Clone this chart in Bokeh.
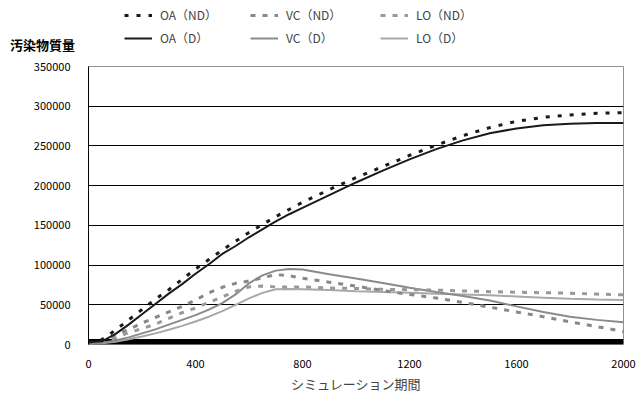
from bokeh.plotting import figure
from bokeh.layouts import column, row
from bokeh.models import (Legend, LegendItem, Range1d, FixedTicker, Div,
                          ColumnDataSource, NumeralTickFormatter)
from bokeh.embed import file_html
from bokeh.resources import INLINE

# ---- data ----
steps = [0, 50, 100, 150, 200, 250, 300, 350, 400, 450, 500, 550, 600, 650, 700, 750,
         800, 900, 1000, 1100, 1200, 1300, 1400, 1500, 1600, 1700, 1800, 1900, 2000]
oa_nd = [3000, 6000, 18000, 31000, 44000, 57000, 69000, 82000, 95000, 107000, 119000,
         130000, 141000, 151000, 161000, 170000, 179000, 195000, 210000, 224000, 238000,
         251000, 263000, 273000, 281000, 286000, 289000, 291000, 292000]
oa_d = [3000, 4000, 13000, 25000, 38000, 51000, 64000, 76000, 89000, 101000, 114000,
        124000, 135000, 145000, 155000, 164000, 172000, 188000, 204000, 219000, 233000,
        246000, 257000, 266000, 272000, 276000, 278000, 279000, 279000]
vc_nd = [1000, 3000, 12000, 19000, 27000, 34000, 41000, 48000, 56000, 65000, 72000,
         77000, 80000, 84000, 88000, 86500, 83500, 78500, 73500, 68000, 63000, 58500,
         53000, 47000, 41000, 35000, 28500, 22500, 16500]
vc_d = [1000, 2000, 5000, 9000, 14000, 19000, 25000, 31000, 37000, 44000, 52000,
        63000, 77000, 87000, 93000, 95000, 94500, 88500, 83000, 77500, 71500, 66000,
        61000, 55500, 48000, 41000, 35000, 31000, 28000]
lo_nd = [1000, 2500, 8000, 15000, 20000, 25500, 33000, 40000, 46000, 53000, 60000,
         67000, 72500, 73500, 72500, 72500, 72500, 71000, 70500, 69500, 69000, 68500,
         67500, 66500, 65800, 65200, 64500, 63500, 62500]
lo_d = [1000, 1500, 3500, 6500, 10000, 14000, 18500, 23500, 29000, 35000, 42000,
        50000, 58000, 65000, 69500, 70000, 69500, 68500, 67000, 66000, 65000, 64000,
        63000, 62000, 60500, 59000, 57500, 56500, 56000]
band_x = [0, 2000]
band_top = [7000, 7000]
x_ticks = [0, 400, 800, 1200, 1600, 2000]
y_ticks = [0, 50000, 100000, 150000, 200000, 250000, 300000, 350000]
names = ["OA（ND）", "VC（ND）", "LO（ND）", "OA（D）", "VC（D）", "LO（D）"]
y_title = "汚染物質量"

JP = "Noto Sans CJK JP"

styles = {
    "oa_nd": dict(line_color="#1a1a1a", line_width=3, line_dash="4 8"),
    "oa_d": dict(line_color="#1a1a1a", line_width=2),
    "vc_nd": dict(line_color="#888888", line_width=3, line_dash="5 7"),
    "vc_d": dict(line_color="#8a8a8a", line_width=2),
    "lo_nd": dict(line_color="#999999", line_width=3, line_dash="5 7"),
    "lo_d": dict(line_color="#a8a8a8", line_width=2),
}

src = ColumnDataSource(dict(x=steps, oa_nd=oa_nd, oa_d=oa_d, vc_nd=vc_nd, vc_d=vc_d,
                            lo_nd=lo_nd, lo_d=lo_d))

# ---------------- main chart ----------------
p = figure(width=637, height=341, output_backend="svg", toolbar_location=None,
           x_range=Range1d(0, 2000), y_range=Range1d(0, 350000),
           min_border_left=88, min_border_right=14, min_border_top=8,
           min_border_bottom=55)
p.outline_line_color = "#909090"
p.outline_line_width = 1

p.xgrid.grid_line_color = None
p.ygrid.grid_line_color = "black"
p.ygrid.grid_line_width = 1
p.ygrid.ticker = FixedTicker(ticks=y_ticks[1:-1])

p.xaxis.ticker = FixedTicker(ticks=x_ticks)
p.yaxis.ticker = FixedTicker(ticks=y_ticks)
p.yaxis.formatter = NumeralTickFormatter(format="0")
for ax in (p.xaxis, p.yaxis):
    ax.major_tick_line_color = None
    ax.minor_tick_line_color = None
    ax.major_label_text_font = JP
    ax.major_label_text_font_size = "11px"
    ax.major_label_text_color = "black"
p.xaxis.axis_line_color = None
p.yaxis.axis_line_color = "black"
p.yaxis.axis_line_width = 1
p.xaxis.major_label_standoff = 9
p.yaxis.major_label_standoff = 12
p.xaxis.axis_label = "シミュレーション期間"
p.xaxis.axis_label_text_font = JP
p.xaxis.axis_label_text_font_size = "13px"
p.xaxis.axis_label_text_font_style = "normal"
p.xaxis.axis_label_standoff = 3

p.varea(x=band_x, y1=[0, 0], y2=band_top, fill_color="black")

for key in ["lo_d", "vc_d", "lo_nd", "vc_nd", "oa_d", "oa_nd"]:
    p.line("x", key, source=src, **styles[key])

# ---------------- legend strip ----------------
top = figure(width=549, height=58, output_backend="svg", toolbar_location=None,
             x_range=Range1d(0, 2000), y_range=Range1d(-2, -1),
             min_border_left=0, min_border_right=0, min_border_top=0,
             min_border_bottom=0, x_axis_location=None, y_axis_location=None,
             margin=0)
top.outline_line_color = None
top.xgrid.grid_line_color = None
top.ygrid.grid_line_color = None

# same series, drawn outside this strip's visible range: only their legend shows
leg_r = {k: top.line("x", k, source=src, **styles[k]) for k in styles}

cols = [(36, ["oa_nd", "oa_d"], [names[0], names[3]]),
        (162, ["vc_nd", "vc_d"], [names[1], names[4]]),
        (292, ["lo_nd", "lo_d"], [names[2], names[5]])]
for xoff, keys, labs in cols:
    leg = Legend(items=[LegendItem(label=l, renderers=[leg_r[k]]) for l, k in zip(labs, keys)],
                 location=(xoff, 12), orientation="vertical",
                 padding=0, margin=0, spacing=6, glyph_height=12, label_height=12,
                 glyph_width=28, label_standoff=8, border_line_color=None,
                 background_fill_alpha=0, label_text_font=JP,
                 label_text_font_size="12px")
    top.add_layout(leg, "center")

title_div = Div(text=y_title, width=88, height=58, margin=0,
                styles={"font-family": JP, "font-size": "13px", "font-weight": "bold",
                        "line-height": "13px", "padding-top": "38px",
                        "padding-left": "10px", "color": "black",
                        "box-sizing": "border-box"})

layout = column(row(title_div, top, spacing=0, margin=0), p, spacing=0, margin=0)
open("out.html", "w").write(file_html(layout, INLINE))
